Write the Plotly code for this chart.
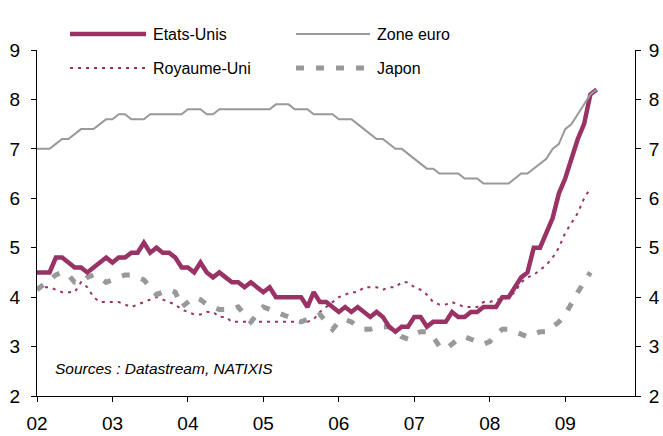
import plotly.graph_objects as go

# Monthly index: 0 = Jan 2002
months = list(range(90))

us = [4.5, 4.5, 4.5, 4.8, 4.8, 4.7, 4.6, 4.6, 4.5, 4.6,
      4.7, 4.8, 4.7, 4.8, 4.8, 4.9, 4.9, 5.1, 4.9, 5.0,
      4.9, 4.9, 4.8, 4.6, 4.6, 4.5, 4.7, 4.5, 4.4, 4.5,
      4.4, 4.3, 4.3, 4.2, 4.3, 4.2, 4.1, 4.2, 4.0, 4.0,
      4.0, 4.0, 4.0, 3.8, 4.1, 3.9, 3.9, 3.8, 3.7, 3.8,
      3.7, 3.8, 3.7, 3.6, 3.7, 3.6, 3.4, 3.3, 3.4, 3.4,
      3.6, 3.6, 3.4, 3.5, 3.5, 3.5, 3.7, 3.6, 3.6, 3.7,
      3.7, 3.8, 3.8, 3.8, 4.0, 4.0, 4.2, 4.4, 4.5, 5.0,
      5.0, 5.3, 5.6, 6.1, 6.4, 6.8, 7.2, 7.5, 8.1, 8.2]

euro = [7.0, 7.0, 7.0, 7.1, 7.2, 7.2, 7.3, 7.4, 7.4, 7.4,
        7.5, 7.6, 7.6, 7.7, 7.7, 7.6, 7.6, 7.6, 7.7, 7.7,
        7.7, 7.7, 7.7, 7.7, 7.8, 7.8, 7.8, 7.7, 7.7, 7.8,
        7.8, 7.8, 7.8, 7.8, 7.8, 7.8, 7.8, 7.8, 7.9, 7.9,
        7.9, 7.8, 7.8, 7.8, 7.7, 7.7, 7.7, 7.7, 7.6, 7.6,
        7.6, 7.5, 7.4, 7.3, 7.2, 7.2, 7.1, 7.0, 7.0, 6.9,
        6.8, 6.7, 6.6, 6.6, 6.5, 6.5, 6.5, 6.5, 6.4, 6.4,
        6.4, 6.3, 6.3, 6.3, 6.3, 6.3, 6.4, 6.5, 6.5, 6.6,
        6.7, 6.8, 7.0, 7.1, 7.4, 7.5, 7.7, 7.9, 8.1, 8.2]

uk = [4.2, 4.2, 4.2, 4.15, 4.1, 4.1, 4.1, 4.3, 4.2, 4.0,
      3.9, 3.9, 3.9, 3.9, 3.85, 3.8, 3.85, 3.9, 3.95, 4.0,
      3.95, 3.9, 3.85, 3.75, 3.7, 3.65, 3.65, 3.7, 3.7, 3.6,
      3.6, 3.5, 3.5, 3.5, 3.5, 3.5, 3.5, 3.5, 3.5, 3.5,
      3.5, 3.5, 3.5, 3.5, 3.55, 3.7, 3.8, 3.9, 4.0, 4.05,
      4.1, 4.1, 4.2, 4.2, 4.2, 4.15, 4.2, 4.2, 4.3, 4.3,
      4.2, 4.15, 4.05, 3.9, 3.85, 3.85, 3.9, 3.85, 3.8, 3.8,
      3.8, 3.9, 3.9, 3.95, 3.95, 4.0, 4.1, 4.3, 4.4, 4.45,
      4.55, 4.65, 4.8, 5.0, 5.3, 5.5, 5.7, 6.0, 6.2]

japan = [4.15, 4.25, 4.35, 4.45, 4.5, 4.45, 4.3, 4.3, 4.4, 4.45,
         4.4, 4.3, 4.35, 4.4, 4.45, 4.45, 4.4, 4.35, 4.2, 4.05,
         4.1, 4.15, 4.1, 3.8, 3.9, 4.0, 3.95, 3.85, 3.8, 3.75,
         3.75, 3.75, 3.8, 3.65, 3.5, 3.65, 3.8, 3.75, 3.7, 3.65,
         3.6, 3.55, 3.5, 3.55, 3.6, 3.65, 3.5, 3.35, 3.5, 3.55,
         3.5, 3.4, 3.35, 3.35, 3.4, 3.4, 3.4, 3.3, 3.2, 3.15,
         3.25, 3.3, 3.3, 3.2, 3.0, 2.95, 3.05, 3.15, 3.2, 3.15,
         3.1, 3.05, 3.1, 3.25, 3.35, 3.35, 3.3, 3.25, 3.2, 3.25,
         3.3, 3.3, 3.4, 3.5, 3.65, 3.9, 4.1, 4.3, 4.5]

year_ticks = [0, 12, 24, 36, 48, 60, 72, 84]
year_labels = ["02", "03", "04", "05", "06", "07", "08", "09"]
y_ticks = [2, 3, 4, 5, 6, 7, 8, 9]

names = ["Etats-Unis", "Zone euro", "Royaume-Uni", "Japon"]
series = [us, euro, uk, japan]

MAG = "#993366"
GRAY = "#999999"
styles = {
    "Etats-Unis": dict(color=MAG, width=4.5, dash="solid"),
    "Zone euro": dict(color=GRAY, width=2, dash="solid"),
    "Royaume-Uni": dict(color=MAG, width=2, dash="3px,5px"),
    "Japon": dict(color=GRAY, width=5, dash="8px,12px"),
}

FONT = "Liberation Sans, Arial, sans-serif"

fig = go.Figure()
draw_order = ["Royaume-Uni", "Japon", "Etats-Unis", "Zone euro"]
for nm in draw_order:
    vals = series[names.index(nm)]
    fig.add_trace(go.Scatter(
        x=months[:len(vals)], y=vals, mode="lines", name=nm,
        line=styles[nm], showlegend=False,
        yaxis="y2" if nm == "Zone euro" else "y",
    ))

W, H = 663, 436
ML, MR, MT, MB = 37, 28, 50, 40
pw, ph = W - ML - MR, H - MT - MB

def px_x(p):
    return (p - ML) / pw

def px_y(p):
    return (H - MB - p) / ph

leg_pos = {
    "Etats-Unis": (70, 146, 34),
    "Zone euro": (296, 370, 34),
    "Royaume-Uni": (70, 146, 68),
    "Japon": (296, 370, 68),
}
for nm in names:
    x0, x1, yy = leg_pos[nm]
    st = styles[nm]
    fig.add_shape(type="line", xref="paper", yref="paper",
                  x0=px_x(x0), x1=px_x(x1), y0=px_y(yy), y1=px_y(yy),
                  line=dict(color=st["color"], width=st["width"], dash=st["dash"]))
    fig.add_annotation(xref="paper", yref="paper", x=px_x(x1 + 5), y=px_y(yy),
                       text=nm, showarrow=False, xanchor="left", yanchor="middle",
                       font=dict(family=FONT, size=16, color="black"))

fig.add_annotation(xref="paper", yref="paper", x=px_x(53), y=px_y(368),
                   text="<i>Sources : Datastream, NATIXIS</i>", showarrow=False,
                   xanchor="left", yanchor="middle",
                   font=dict(family=FONT, size=15.5, color="black"))

axis_common = dict(showgrid=False, zeroline=False, showline=True, linecolor="black",
                   linewidth=1, ticks="outside", ticklen=5, tickcolor="black",
                   automargin=False,
                   tickfont=dict(family=FONT, size=19, color="black"))

fig.update_layout(
    width=W, height=H,
    margin=dict(l=ML, r=MR, t=MT, b=MB, pad=0, autoexpand=False),
    paper_bgcolor="white", plot_bgcolor="white",
    showlegend=False,
    xaxis=dict(range=[0, 95.1], tickmode="array", tickvals=year_ticks,
               ticktext=year_labels, ticklabelstandoff=5, **axis_common),
    yaxis=dict(range=[2, 9], tickmode="array", tickvals=y_ticks,
               ticklabelstandoff=7, **axis_common),
    yaxis2=dict(range=[2, 9], tickmode="array", tickvals=y_ticks,
                overlaying="y", side="right", ticklabelstandoff=4, **axis_common),
)

fig.write_html(
    "out.html",
    config={"displayModeBar": False},
    post_script="document.body.style.margin='0';document.body.style.overflow='hidden';",
)
